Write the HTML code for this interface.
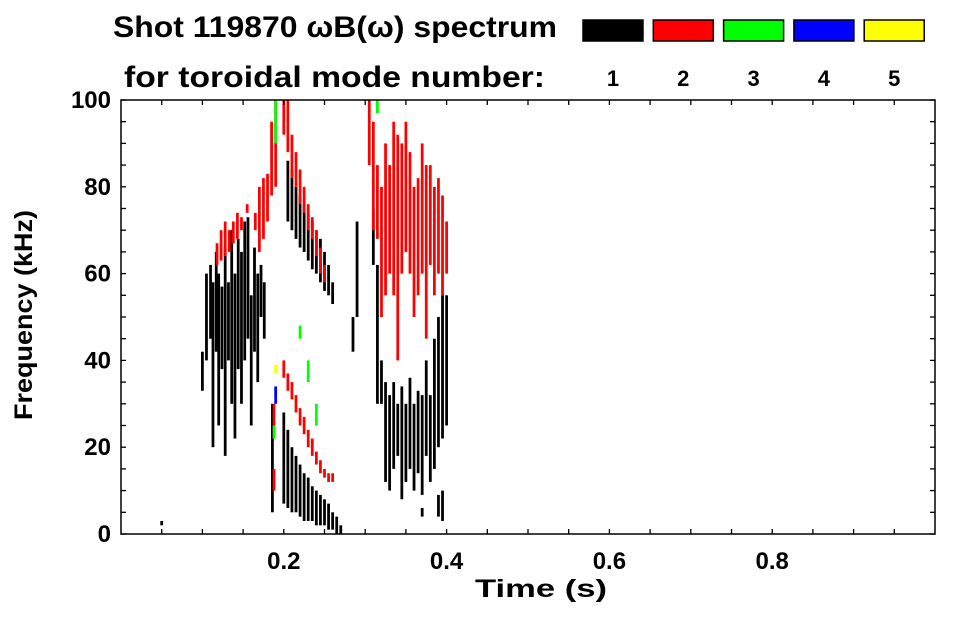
<!DOCTYPE html>
<html><head><meta charset="utf-8"><style>
body{margin:0;background:#fff;}
svg text{font-family:"Liberation Sans",sans-serif;font-weight:bold;fill:#000;}
</style></head><body>
<svg id="chart" width="963" height="615" viewBox="0 0 963 615" xmlns="http://www.w3.org/2000/svg">
<text x="113" y="37" font-size="30" textLength="444" lengthAdjust="spacingAndGlyphs">Shot 119870 ωB(ω) spectrum</text>
<text x="124" y="87" font-size="30" textLength="421" lengthAdjust="spacingAndGlyphs">for toroidal mode number:</text>
<g id="legend"></g>
<g id="marks"></g>
<rect x="121" y="100" width="814" height="434" fill="none" stroke="#000" stroke-width="1.5"/>
<g id="axes"></g>
<text x="475" y="597" font-size="25" textLength="132" lengthAdjust="spacingAndGlyphs">Time (s)</text>
<text transform="translate(32,420) rotate(-90)" font-size="25" textLength="210" lengthAdjust="spacingAndGlyphs">Frequency (kHz)</text>
</svg>
<script>
const modeLabels=["1","2","3","4","5"];
const modeColors=["#000000","#ff0000","#00ff00","#0000ff","#ffff00"];
const xTicks=[0.2,0.4,0.6,0.8];
const yTicks=[0,20,40,60,80,100];
// streaks: time (s), low freq, high freq (kHz), mode index
const times=[0.100,0.105,0.110,0.113,0.117,0.120,0.124,0.128,0.132,0.136,0.140,0.144,0.148,0.152,0.156,0.160,0.164,0.168,0.172,0.176,0.186,
0.200,0.205,0.210,0.215,0.220,0.225,0.230,0.235,0.240,0.245,0.250,0.255,0.260,0.265,0.270,
0.205,0.210,0.215,0.220,0.225,0.230,0.235,0.240,0.245,0.250,0.255,0.260,
0.285,0.290,0.310,0.315,0.320,0.325,0.330,0.335,0.340,0.345,0.350,0.355,0.360,0.365,0.370,0.375,0.380,0.385,0.390,0.395,0.400,0.395,0.390,0.370,0.050,
0.118,0.123,0.128,0.133,0.138,0.143,0.148,0.155,0.165,0.170,0.175,0.180,0.185,0.190,0.200,0.205,0.210,0.215,0.220,0.225,0.230,0.235,0.240,0.245,0.250,
0.200,0.205,0.210,0.215,0.220,0.225,0.230,0.235,0.240,0.245,0.250,0.255,0.260,0.188,0.188,
0.305,0.310,0.315,0.320,0.325,0.330,0.335,0.340,0.345,0.350,0.355,0.360,0.365,0.370,0.375,0.380,0.385,0.390,0.395,0.400,
0.190,0.220,0.230,0.240,0.188,0.315,0.190,0.190];
const fLow=[33,40,45,20,42,25,38,18,40,30,22,38,30,40,45,25,42,35,50,45,5,
7,6,5,5,4,3,3,3,2,2,2,1,1,0,0,
72,70,68,66,65,63,61,60,58,56,55,53,
42,50,62,30,30,12,10,15,18,8,12,15,10,14,9,18,12,15,20,22,25,3,4,4,2,
62,63,64,65,67,68,70,74,70,65,68,72,78,80,92,88,82,80,76,74,70,68,64,60,58,
36,33,31,28,25,23,20,18,16,14,13,12,12,22,10,
85,70,68,50,55,60,55,40,60,65,60,50,55,60,45,62,55,60,55,60,
90,45,35,25,22,97,30,37];
const fHigh=[42,60,62,58,65,60,57,66,58,70,60,68,65,72,73,55,66,60,62,58,30,
28,24,20,18,16,14,13,11,10,9,8,7,5,4,2,
86,84,80,78,76,74,72,70,68,65,62,58,
50,72,75,62,40,35,32,35,30,34,30,36,30,33,32,40,32,45,50,55,55,10,9,6,3,
67,70,72,70,72,74,73,76,74,80,82,83,95,100,100,100,92,88,84,80,76,73,70,66,62,
40,37,35,32,29,27,24,22,19,17,15,14,14,30,15,
100,95,85,80,90,85,95,92,90,95,88,80,82,90,85,85,80,82,78,72,
100,48,40,30,25,100,34,39];
const modes=[0,0,0,0,0,0,0,0,0,0,0,0,0,0,0,0,0,0,0,0,0,
0,0,0,0,0,0,0,0,0,0,0,0,0,0,0,
0,0,0,0,0,0,0,0,0,0,0,0,
0,0,0,0,0,0,0,0,0,0,0,0,0,0,0,0,0,0,0,0,0,0,0,0,0,
1,1,1,1,1,1,1,1,1,1,1,1,1,1,1,1,1,1,1,1,1,1,1,1,1,
1,1,1,1,1,1,1,1,1,1,1,1,1,1,1,
1,1,1,1,1,1,1,1,1,1,1,1,1,1,1,1,1,1,1,1,
2,2,2,2,2,2,3,4];
const NS="http://www.w3.org/2000/svg";
const X0=121,X1=935,Y0=534,Y1=100;
function xs(t){return X0+t*(X1-X0);}
function ys(f){return Y0-f/100*(Y0-Y1);}
const marks=document.getElementById('marks');
for(let i=0;i<times.length;i++){
  const r=document.createElementNS(NS,'rect');
  
  
  r.setAttribute('x',xs(times[i]-0.0017));
  r.setAttribute('width',xs(0.0034)-X0);
  r.setAttribute('y',ys(fHigh[i]));
  r.setAttribute('height',Math.max(1.5,ys(fLow[i])-ys(fHigh[i])));
  r.setAttribute('fill',modeColors[modes[i]]);
  marks.appendChild(r);
}
const legend=document.getElementById('legend');
for(let i=0;i<modeLabels.length;i++){
  const bx=583+i*70.3;
  const r=document.createElementNS(NS,'rect');
  
  
  r.setAttribute('x',bx);r.setAttribute('y',20);r.setAttribute('width',60);r.setAttribute('height',21);
  r.setAttribute('fill',modeColors[i]);r.setAttribute('stroke','#000');r.setAttribute('stroke-width','1.5');
  legend.appendChild(r);
  const t=document.createElementNS(NS,'text');
  
  
  t.setAttribute('x',bx+30);t.setAttribute('y',86);t.setAttribute('font-size','22');t.setAttribute('text-anchor','middle');
  t.textContent=modeLabels[i];
  legend.appendChild(t);
}
const axes=document.getElementById('axes');
function line(x1,y1,x2,y2,name){
  const l=document.createElementNS(NS,'line');
  
  
  l.setAttribute('x1',x1);l.setAttribute('y1',y1);l.setAttribute('x2',x2);l.setAttribute('y2',y2);
  l.setAttribute('stroke','#000');l.setAttribute('stroke-width','1.3');
  axes.appendChild(l);
}
for(let t=0.05;t<1.0;t+=0.05){
  const x=xs(t);
  line(x,Y0,x,Y0-5,'x-tick');line(x,Y1,x,Y1+5,'x-tick-top');
}
for(let f=0;f<=100;f+=5){
  const y=ys(f);
  line(X0,y,X0+5,y,'y-tick');line(X1,y,X1-5,y,'y-tick-right');
}
xTicks.forEach(v=>{
  const t=document.createElementNS(NS,'text');
  
  
  t.setAttribute('x',xs(v));t.setAttribute('y',569);t.setAttribute('font-size','24');t.setAttribute('text-anchor','middle');
  t.textContent=v.toFixed(1);axes.appendChild(t);
});
yTicks.forEach(v=>{
  const t=document.createElementNS(NS,'text');
  
  
  t.setAttribute('x',111);t.setAttribute('y',ys(v)+8);t.setAttribute('font-size','24');t.setAttribute('text-anchor','end');
  t.textContent=v;axes.appendChild(t);
});
</script>
</body></html>
